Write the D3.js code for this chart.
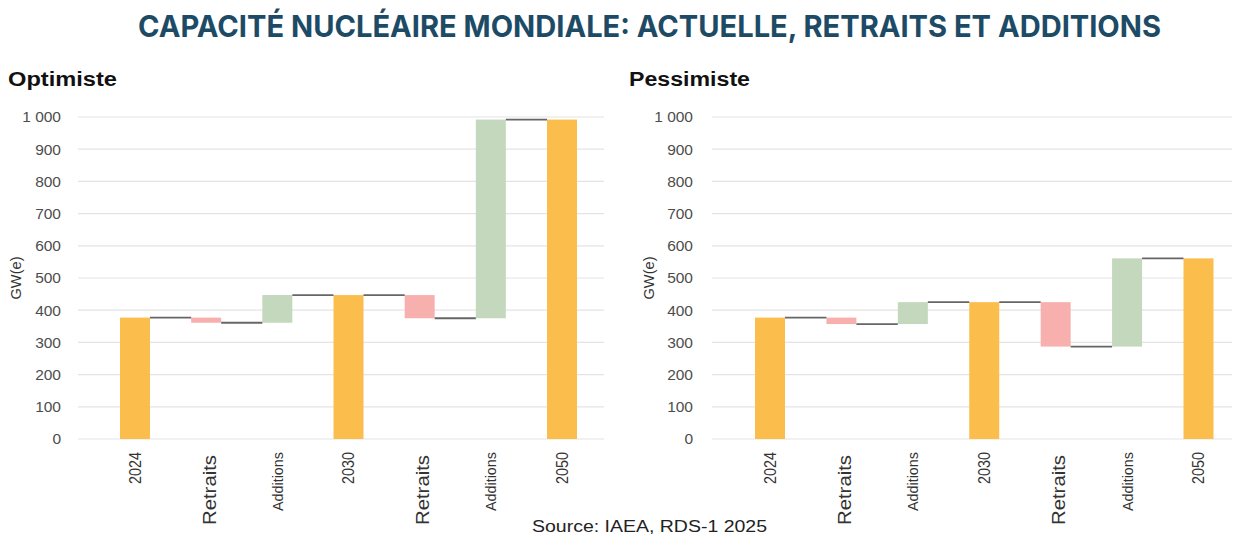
<!DOCTYPE html>
<html><head><meta charset="utf-8">
<script src="https://cdn.jsdelivr.net/npm/d3@7"></script>
<style>body{margin:0;background:#fff}svg{display:block}</style>
</head><body>
<svg id="c" width="1239" height="535"></svg>
<script>
const title = "CAPACITÉ NUCLÉAIRE MONDIALE: ACTUELLE, RETRAITS ET ADDITIONS";
const categories = ["2024","Retraits","Additions","2030","Retraits","Additions","2050"];
const types = ["total","retrait","addition","total","retrait","addition","total"];
const optimiste = [377, -16, 86, 447, -72, 617, 992];
const pessimiste = [377, -20, 68, 425, -138, 274, 561];
const yTicks = [0,100,200,300,400,500,600,700,800,900,1000];
const panelTitles = ["Optimiste","Pessimiste"];
const yLabel = "GW(e)";
const source = "Source: IAEA, RDS-1 2025";

const colors = {total:"#FBBE4C", retrait:"#F8B0AF", addition:"#C4D8BD"};
const font = "'Liberation Sans', Arial, sans-serif";
const svg = d3.select("#c");
const fmt = d3.formatLocale({decimal:",", thousands:" ", grouping:[3], currency:["",""]}).format(",");

svg.append("text").attr("x",138).attr("y",36.5).text(title)
  .attr("font-family","Inter, 'Liberation Sans', sans-serif").attr("font-weight",700)
  .attr("font-size",30).attr("fill","#1d4b66")
  .attr("textLength",1023).attr("lengthAdjust","spacingAndGlyphs");

const panels = [
  {data:optimiste, title:panelTitles[0], tx:8, tw:109, tickX:61, gx0:78, gx1:604, c0:135, c1:562, ylx:16},
  {data:pessimiste, title:panelTitles[1], tx:629, tw:121, tickX:693, gx0:712, gx1:1232, c0:770, c1:1198.5, ylx:649}
];

const y = d3.scaleLinear().domain([0,1000]).range([439,117]);

panels.forEach(p => {
  const g = svg.append("g");
  g.append("text").attr("x",p.tx).attr("y",86).text(p.title)
    .attr("font-family",font).attr("font-weight",700).attr("font-size",20).attr("fill","#111")
    .attr("textLength",p.tw).attr("lengthAdjust","spacingAndGlyphs");

  g.selectAll("line.grid").data(yTicks).join("line").attr("class","grid")
    .attr("x1",p.gx0).attr("x2",p.gx1).attr("y1",d=>y(d)).attr("y2",d=>y(d))
    .attr("stroke","#e4e4e4").attr("stroke-width",1.2);

  const ax = g.append("g").attr("transform",`translate(${p.tickX},0)`)
    .call(d3.axisLeft(y).tickValues(yTicks).tickFormat(fmt).tickSize(0).tickPadding(0));
  ax.select(".domain").remove();
  ax.selectAll("text").attr("font-family",font).attr("font-size",15.5).attr("fill","#4d4d4d");

  g.append("text").attr("transform",`translate(${p.ylx},278) rotate(-90)`)
    .attr("text-anchor","middle").attr("dy","0.35em").text(yLabel)
    .attr("font-family",font).attr("font-size",14).attr("fill","#333")
    .attr("textLength",43).attr("lengthAdjust","spacingAndGlyphs");

  const idx = categories.map((d,i)=>i);
  const x = d3.scalePoint().domain(idx).range([p.c0,p.c1]);
  const bw = 30;

  let run = 0;
  const bars = p.data.map((v,i) => {
    let lo, hi;
    if (types[i]==="total") { lo = 0; hi = v; run = v; }
    else { const s = run; run = run + v; lo = Math.min(s,run); hi = Math.max(s,run); }
    return {i, lo, hi, end: run, type: types[i]};
  });

  g.selectAll("rect.bar").data(bars).join("rect").attr("class","bar")
    .attr("x",d=>x(d.i)-bw/2).attr("width",bw)
    .attr("y",d=>y(d.hi)).attr("height",d=>y(d.lo)-y(d.hi))
    .attr("fill",d=>colors[d.type]);

  g.selectAll("line.conn").data(bars.slice(0,-1)).join("line").attr("class","conn")
    .attr("x1",d=>x(d.i)+bw/2).attr("x2",d=>x(d.i+1)-bw/2)
    .attr("y1",d=>y(d.end)).attr("y2",d=>y(d.end))
    .attr("stroke","#666").attr("stroke-width",1.8);

  const labelSpec = {"Retraits":{fs:19, len:70, y:455}, "Additions":{fs:15.5, len:59, y:452}};
  idx.forEach(i => {
    const c = categories[i];
    const s = labelSpec[c] || {fs:16, len:32, y:452};
    g.append("text").attr("transform",`translate(${x(i)+ (c==="Retraits"?3:0)},${s.y}) rotate(-90)`)
      .attr("text-anchor","end").attr("dy","0.35em").text(c)
      .attr("font-family",font).attr("font-size",s.fs).attr("fill","#333")
      .attr("textLength",s.len).attr("lengthAdjust","spacingAndGlyphs");
  });
});

svg.append("text").attr("x",532).attr("y",531.5).text(source)
  .attr("font-family",font).attr("font-size",16).attr("fill","#222")
  .attr("textLength",235).attr("lengthAdjust","spacingAndGlyphs");
</script>
</body></html>
